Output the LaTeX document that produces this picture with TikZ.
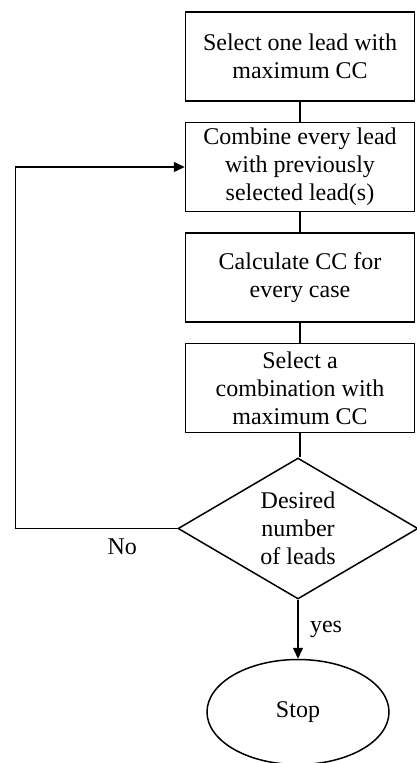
\documentclass[tikz,border=0pt]{standalone}
\usepackage{fontspec}
\setmainfont{Liberation Serif}
\usetikzlibrary{positioning,shapes.geometric,arrows.meta}

\begin{document}
\begin{tikzpicture}[
	x=1pt, y=-1pt,
	font=\fontsize{24}{28}\selectfont,
	line width=1.5pt,
	node distance=20pt,
	stepbox/.style = {draw, rectangle, align=center,
		minimum width=229pt, minimum height=89pt, inner sep=2pt},
	decision/.style = {draw, diamond, align=center, aspect=1.7,
		minimum width=240pt, minimum height=141pt, inner sep=0pt},
	terminal/.style = {draw, ellipse, minimum width=182pt, minimum height=105pt},
	link/.style = {-{Triangle[length=11pt,width=10pt]}}
	]
	\useasboundingbox (0,0) rectangle (416,763);
	% main column
	\node [stepbox] (first) at (300,56.5) {Select one lead with\\maximum CC};
	\node [stepbox, below=of first] (combine) {Combine every lead\\with previously\\selected lead(s)};
	\node [stepbox, below=of combine] (calc) {Calculate CC for\\every case};
	\node [stepbox, below=of calc] (best) {Select a\\combination with\\maximum CC};
	\node [decision, below=24pt of best, xshift=-2pt] (desired) {Desired\\number\\of leads};
	\node [terminal, below=59pt of desired] (stop) {Stop};
	% connectors
	\draw (first) -- (combine);
	\draw (combine) -- (calc);
	\draw (calc) -- (best);
	\draw (best.south) -- (best.south |- desired.north);
	\draw [link] (desired.south) -- node [right=8pt] {yes} (stop.north);
	\draw [link] (desired.west) -- node [pos=0.34, below=6pt] {No} ++(-162,0) |- (combine.west);
\end{tikzpicture}
\end{document}
